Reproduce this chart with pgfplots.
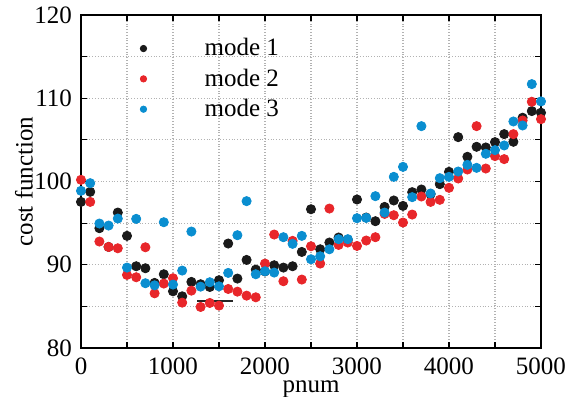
\documentclass[border=0pt]{standalone}
\usepackage{fontspec}
\setmainfont{Liberation Serif}
\usepackage{pgfplots}
\pgfplotsset{compat=1.18}
\definecolor{mblack}{RGB}{26,26,26}
\definecolor{mred}{RGB}{232,38,42}
\definecolor{mblue}{RGB}{10,142,208}
\begin{document}
\begin{tikzpicture}
\begin{axis}[
  scale only axis, width=230bp, height=166.5bp,
  xmin=0, xmax=5000, ymin=80, ymax=120,
  xtick={0,1000,...,5000}, minor xtick={500,1500,2500,3500,4500},
  ytick={80,90,...,120}, minor ytick={85,95,105,115},
  grid=both,
  major grid style={densely dotted, black!30, line width=0.6pt},
  minor grid style={densely dotted, black!30, line width=0.6pt},
  tick align=inside, major tick length=3bp, minor tick length=3bp,
  tick style={black, line width=0.6pt},
  axis line style={line width=0.8pt},
  font=\rmfamily\fontsize{12.5bp}{14bp}\selectfont,
  /pgf/number format/assume math mode=true,
  /pgf/number format/1000 sep={},
  scaled x ticks=false,
  xticklabel={\rmfamily\pgfmathprintnumber[assume math mode=true,1000 sep={}]{\tick}},
  yticklabel={\rmfamily\pgfmathprintnumber[assume math mode=true]{\tick}},
  xticklabel style={yshift=-1.5bp},
  yticklabel style={xshift=-1bp},
  xlabel={pnum}, ylabel={cost function},
  xlabel style={at={(axis description cs:0.5,-0.124)}, anchor=center},
  ylabel style={at={(axis description cs:-0.124,0.5)}, anchor=center},
  legend style={draw=none, fill=none, at={(axis description cs:0.115,0.952)}, anchor=north west,
    font=\rmfamily\fontsize{12.5bp}{14bp}\selectfont, row sep=2bp,
    nodes={inner sep=1.5bp}},
  legend cell align=left,
  legend image post style={mark size=1.6bp},
]
\addplot[only marks, mark=*, mark size=2.3bp, mblack, mark options={draw=none, fill=mblack}] coordinates {
(0,97.55)(100,98.76)(200,94.39)(300,92.14)(400,96.27)(500,93.47)(600,89.82)(700,89.58)(800,87.82)(900,88.86)
(1000,86.81)(1100,86.21)(1200,87.94)(1300,87.66)(1400,87.33)(1500,88.14)(1600,92.55)(1700,88.34)(1800,90.58)(1900,89.42)
(2000,89.2)(2100,89.94)(2200,89.66)(2300,89.82)(2400,91.54)(2500,96.67)(2600,91.86)(2700,92.67)(2800,93.27)(2900,93.0)
(3000,97.84)(3100,95.67)(3200,95.23)(3300,96.95)(3400,97.72)(3500,97.07)(3600,98.72)(3700,99.04)(3800,98.48)(3900,99.68)
(4000,101.16)(4100,105.33)(4200,102.97)(4300,104.17)(4400,104.09)(4500,104.73)(4600,105.69)(4700,104.77)(4800,107.66)(4900,108.46)
(5000,108.26)};
\addlegendentry{\hspace{27.5bp}mode 1}
\addplot[only marks, mark=*, mark size=2.3bp, mred, mark options={draw=none, fill=mred}] coordinates {
(0,100.2)(100,97.55)(200,92.79)(300,92.14)(400,91.98)(500,88.78)(600,88.50)(700,92.10)(800,86.57)(900,87.74)
(1000,88.38)(1100,85.45)(1200,86.89)(1300,84.93)(1400,85.41)(1500,85.09)(1600,87.09)(1700,86.77)(1800,86.29)(1900,86.09)
(2000,90.14)(2100,93.63)(2200,88.02)(2300,92.87)(2400,88.22)(2500,92.22)(2600,90.14)(2700,96.75)(2800,92.38)(2900,92.67)
(3000,92.26)(3100,92.91)(3200,93.31)(3300,96.11)(3400,95.95)(3500,95.07)(3600,96.03)(3700,98.20)(3800,97.55)(3900,97.80)
(4000,99.24)(4100,100.36)(4200,101.44)(4300,106.65)(4400,101.56)(4500,103.05)(4600,102.69)(4700,105.69)(4800,107.33)(4900,109.58)
(5000,107.49)};
\addlegendentry{\hspace{27.5bp}mode 2}
\addplot[only marks, mark=*, mark size=2.3bp, mblue, mark options={draw=none, fill=mblue}] coordinates {
(0,98.88)(100,99.80)(200,94.95)(300,94.71)(400,95.55)(500,89.66)(600,95.51)(700,87.78)(800,87.53)(900,95.11)
(1000,87.62)(1100,89.30)(1200,93.99)(1300,87.37)(1400,87.90)(1500,87.41)(1600,89.02)(1700,93.55)(1800,97.64)(1900,88.86)
(2000,89.22)(2100,89.06)(2200,93.31)(2300,92.51)(2400,93.47)(2500,90.66)(2600,91.02)(2700,91.86)(2800,93.07)(2900,93.07)
(3000,95.59)(3100,95.63)(3200,98.24)(3300,96.27)(3400,100.56)(3500,101.76)(3600,98.12)(3700,106.65)(3800,98.56)(3900,100.40)
(4000,100.56)(4100,101.20)(4200,102.00)(4300,101.64)(4400,103.33)(4500,103.77)(4600,104.33)(4700,107.21)(4800,106.73)(4900,111.70)
(5000,109.62)};
\addlegendentry{\hspace{27.5bp}mode 3}
\addplot[forget plot, black!85, line width=0.7pt] coordinates {(1266,85.65)(1655,85.65)};
\coordinate (sw) at (rel axis cs:0,0);
\coordinate (ne) at (rel axis cs:1,1);
\end{axis}
\pgfresetboundingbox
\path[use as bounding box] ([shift={(-40.5bp,-24.5bp)}]sw) rectangle ([shift={(17.5bp,7.5bp)}]ne);
\end{tikzpicture}
\end{document}
